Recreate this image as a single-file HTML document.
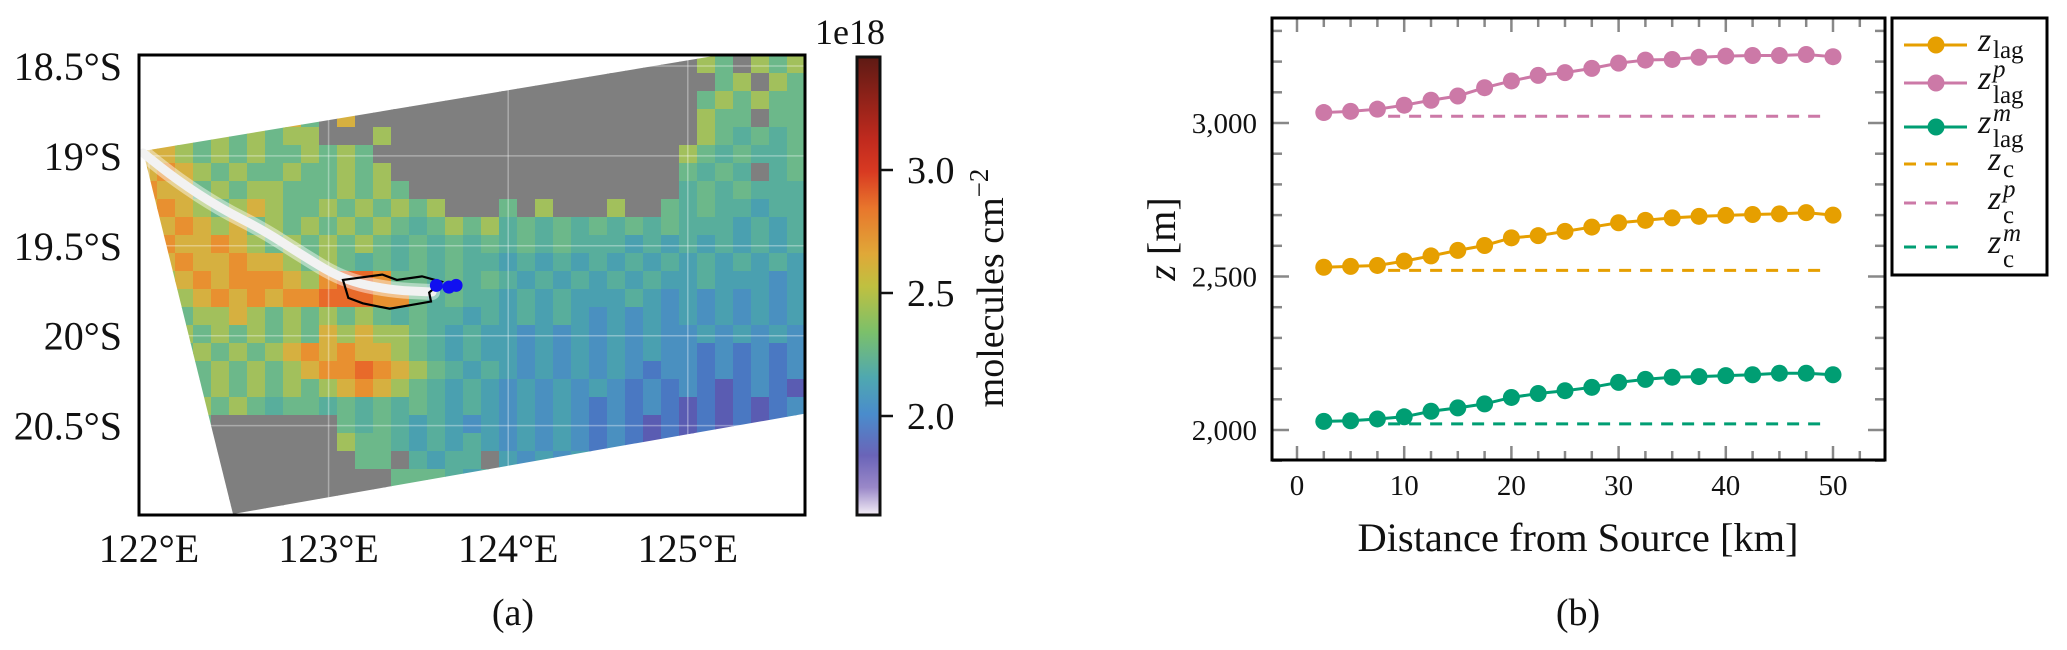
<!DOCTYPE html>
<html><head><meta charset="utf-8"><style>
body{margin:0;background:#fff;width:2067px;height:650px;overflow:hidden}
svg{display:block}
text{font-family:"Liberation Serif",serif;fill:#111}
</style></head><body>
<svg width="2067" height="650" viewBox="0 0 2067 650">
<defs>
<linearGradient id="cb" x1="0" y1="1" x2="0" y2="0">
<stop offset="0" stop-color="#f4eef6"/><stop offset="0.06" stop-color="#9a88c8"/><stop offset="0.13" stop-color="#6a64b8"/>
<stop offset="0.22" stop-color="#4a8ccc"/><stop offset="0.3" stop-color="#4fa8b0"/><stop offset="0.4" stop-color="#7cc06a"/>
<stop offset="0.5" stop-color="#c0c040"/><stop offset="0.57" stop-color="#e0a838"/><stop offset="0.67" stop-color="#e8762c"/>
<stop offset="0.75" stop-color="#d83a22"/><stop offset="0.82" stop-color="#c02a1e"/><stop offset="1" stop-color="#5e1a14"/>
</linearGradient>
<clipPath id="swath"><polygon points="143,151 900,25 900,397 233,514"/></clipPath>
<clipPath id="mapbox"><rect x="139" y="55" width="666" height="460"/></clipPath>
</defs>
<g id="map"></g>
<g id="cbar"></g>
<g id="chart"></g>
</svg>
<script>
// ---- map data ----
const mapRows = [
"6655656665 gggggggggg gggggggggg g65g656",
"6565665656 gggggggggg gggggggggg gg56g65",
"6656565665 6ggggggggg gggggggggg g565655",
"5656656575 g7gggggggg gggggggggg g655g55",
"6565656566 ggg6gggggg gggggggggg g654545",
"7765656556 565ggggggg gggggggggg 6545445",
"7876565565 5656gggggg gggggggggg 5454g45",
"8775656655 56565ggggg gggggggggg 4545444",
"7876567655 6565656ggg 5g6ggg6gg5 4544344",
"8787675656 5656545656 4545454545 4443434",
"7877876565 6565454545 4545444343 4343434",
"6787787765 6545454544 3434343434 3434343",
"5678788876 8998554545 4343434343 3433323",
"5667878788 9998854544 3434333432 3232323",
"5656676565 6565454434 3434323232 3232323",
"5565656565 7676654343 3232323232 2323232",
"5656565678 7877654343 3232323232 2121212",
"5565656567 8898765434 3232323212 2121212",
"4565656565 6787654343 2323232121 2101210",
"5456565455 4545454343 2323212121 0101012",
"45g5gggggg g545434323 2323212101 0101012",
"5g55gggggg g655434343 2323212101 0101012",
"55gggggggg gg55g4344g 3232323232 3232323",
"55gggggggg gggg555434 3232323232 3232323",
"55gggggggg gggg555656 5656565656 5656565",
"55gggggggg gggg555555 5555555555 5555555"];
const levelColors = {"0":"#5a5cb2","1":"#4a78c2","2":"#4a90c0","3":"#4aa0b0","4":"#58ae9c","5":"#6cb88a","6":"#a2c05c","7":"#d6b040","8":"#e89030","9":"#e86a2a","g":"#7f7f7f"};
const lonTicks = ["122°E","123°E","124°E","125°E"];
const lonValues = [122,123,124,125];
const latTicks = ["18.5°S","19°S","19.5°S","20°S","20.5°S"];
const latValues = [18.5,19,19.5,20,20.5];
const cbTicks = [2.0,2.5,3.0];
const plumeLon = [121.967,122.156,122.395,122.635,122.824,123.080,123.342,123.576];
const plumeLat = [18.984,19.134,19.290,19.412,19.534,19.690,19.746,19.757];
const sourceLon = [123.6,123.67,123.71];
const sourceLat = [19.72,19.73,19.72];
const outlineLon = [123.08,123.30,123.38,123.52,123.63,123.56,123.57,123.34,123.19,123.11];
const outlineLat = [19.69,19.66,19.69,19.67,19.70,19.76,19.81,19.85,19.82,19.79];

const NS="http://www.w3.org/2000/svg";
function mk(tag,attrs,parent){const e=document.createElementNS(NS,tag);for(const k in attrs)e.setAttribute(k,attrs[k]);parent.appendChild(e);return e;}
const lonX = v => 149 + (v-122)*179.6;
const latY = v => 66 + (v-18.5)*179.8;
const map=document.getElementById('map');
const outerClip=mk('g',{'clip-path':'url(#mapbox)'},map);
const cells=mk('g',{'clip-path':'url(#swath)'},outerClip);


const CS=18;
mapRows.forEach((row,r)=>{const s=row.replace(/ /g,'');for(let c=0;c<s.length;c++){
 const rc=mk('rect',{x:139+c*CS,y:55+r*CS,width:CS+0.6,height:CS+0.6,fill:levelColors[s[c]]},cells);
 
 
}});
const grid=mk('g',{'clip-path':'url(#mapbox)',stroke:'#ffffff','stroke-opacity':0.35,'stroke-width':1.5},map);


lonValues.forEach(v=>mk('line',{x1:lonX(v),x2:lonX(v),y1:55,y2:515},grid));
latValues.forEach(v=>mk('line',{x1:139,x2:805,y1:latY(v),y2:latY(v)},grid));
// plume (smooth curve through points)
const pts=plumeLon.map((v,i)=>[lonX(v),latY(plumeLat[i])]);
let d='M'+pts[0][0]+','+pts[0][1];
for(let i=1;i<pts.length;i++){const p0=pts[i-1],p1=pts[i];const mx=(p0[0]+p1[0])/2,my=(p0[1]+p1[1])/2;
 d+=(i===1?' L':' Q'+p0[0]+','+p0[1]+' ')+mx+','+my;}
d+=' L'+pts[pts.length-1][0]+','+pts[pts.length-1][1];
mk('path',{d:d,fill:'none',stroke:'#ffffff','stroke-opacity':0.45,'stroke-width':16,'stroke-linecap':'round','stroke-linejoin':'round'},map);
const plume=mk('path',{d:d,fill:'none',stroke:'#f2f2f2','stroke-width':9,'stroke-linecap':'round','stroke-linejoin':'round'},map);


const outline=mk('polygon',{points:outlineLon.map((v,i)=>lonX(v)+','+latY(outlineLat[i])).join(' '),fill:'none',stroke:'#000','stroke-width':2.2},map);


sourceLon.forEach((v,i)=>{const c=mk('circle',{cx:lonX(v),cy:latY(sourceLat[i]),r:6.5,fill:'#1010f0'},map);
 
 });
const mb=mk('rect',{x:139,y:55,width:666,height:460,fill:'none',stroke:'#000','stroke-width':3},map);


lonValues.forEach((v,i)=>{const t=mk('text',{x:lonX(v),y:562,'text-anchor':'middle','font-size':40},map);t.textContent=lonTicks[i];
 
 });
latValues.forEach((v,i)=>{const t=mk('text',{x:122,y:latY(v)+14,'text-anchor':'end','font-size':40},map);t.textContent=latTicks[i];
 
 });
const la=mk('text',{x:513,y:625,'text-anchor':'middle','font-size':38},map);la.textContent='(a)';



// colorbar
const cbar=document.getElementById('cbar');
const cbY=v=>170+(3.0-v)*246;
const cbr=mk('rect',{x:857,y:57,width:23,height:458,fill:'url(#cb)',stroke:'#111','stroke-width':3},cbar);


cbTicks.forEach(v=>{mk('line',{x1:880,x2:893,y1:cbY(v),y2:cbY(v),stroke:'#111','stroke-width':2.5},cbar);
 const t=mk('text',{x:907,y:cbY(v)+13,'font-size':38},cbar);t.textContent=v.toFixed(1);
 
 });
const e18=mk('text',{x:850,y:44,'text-anchor':'middle','font-size':36},cbar);e18.textContent='1e18';


const cl=mk('text',{x:0,y:0,'text-anchor':'middle','font-size':38,transform:'translate(1003,288) rotate(-90)'},cbar);
cl.innerHTML='molecules cm<tspan dy="-15" font-size="27">−2</tspan>';



// ---- line chart data ----
const distances=[2.5,5,7.5,10,12.5,15,17.5,20,22.5,25,27.5,30,32.5,35,37.5,40,42.5,45,47.5,50];
const zLag=[2530,2533,2536,2550,2567,2585,2601,2626,2633,2647,2661,2675,2683,2691,2696,2699,2702,2704,2708,2700];
const zLagP=[3034,3038,3045,3058,3074,3088,3115,3137,3155,3164,3178,3195,3205,3207,3214,3218,3220,3220,3223,3216];
const zLagM=[2028,2030,2036,2043,2061,2072,2085,2106,2119,2128,2139,2155,2165,2172,2174,2177,2180,2185,2185,2180];
const zC=[2520], zCP=[3022], zCM=[2020];
const dashRange=[8.5,49];
const xTicks=[0,10,20,30,40,50];
const yTicks=[2000,2500,3000];
const yTickLabels=["2,000","2,500","3,000"];

const ch=document.getElementById('chart');
const X=v=>1297+v*10.72;
const Y=v=>430-(v-2000)*0.307;
const L=1272,R=1885,T=18,B=460;
const tg=mk('g',{stroke:'#888','stroke-width':2.5},ch);


for(let v=1900;v<=3300;v+=100){const maj=v%500===0,len=maj?17:10;
 mk('line',{x1:L,x2:L+len,y1:Y(v),y2:Y(v)},tg);mk('line',{x1:R-len,x2:R,y1:Y(v),y2:Y(v)},tg);}
for(let v=0;v<=52.5;v+=2.5){const maj=v%10===0,len=maj?14:9;
 mk('line',{x1:X(v),x2:X(v),y1:T,y2:T+len},tg);mk('line',{x1:X(v),x2:X(v),y1:B-len,y2:B},tg);}
const series=[[zLag,zC,'#e69f00','z-lag'],[zLagP,zCP,'#cc79a7','z-lag-p'],[zLagM,zCM,'#009e73','z-lag-m']];
series.forEach(([vals,c,col,name])=>{
 const dl=mk('line',{x1:X(dashRange[0]),x2:X(dashRange[1]),y1:Y(c[0]),y2:Y(c[0]),stroke:col,'stroke-width':3,'stroke-dasharray':'12,9'},ch);
 
 
 const pl=mk('polyline',{points:vals.map((v,i)=>X(distances[i])+','+Y(v)).join(' '),fill:'none',stroke:col,'stroke-width':3},ch);
 
 
 vals.forEach((v,i)=>{const p=mk('circle',{cx:X(distances[i]),cy:Y(v),r:8.5,fill:col},ch);
  
  });
});
const fr=mk('rect',{x:L,y:T,width:R-L,height:B-T,fill:'none',stroke:'#000','stroke-width':3},ch);


xTicks.forEach(v=>{const t=mk('text',{x:X(v),y:495,'text-anchor':'middle','font-size':29},ch);t.textContent=v;
 
 });
yTicks.forEach((v,i)=>{const t=mk('text',{x:1257,y:Y(v)+10,'text-anchor':'end','font-size':29},ch);t.textContent=yTickLabels[i];
 
 });
const xl=mk('text',{x:1578,y:551,'text-anchor':'middle','font-size':40,textLength:441,lengthAdjust:'spacingAndGlyphs'},ch);xl.textContent='Distance from Source [km]';


const yl=mk('text',{x:0,y:0,'text-anchor':'middle','font-size':40,transform:'translate(1175,239) rotate(-90)'},ch);
yl.innerHTML='<tspan font-style="italic">z</tspan> [m]';


const lb=mk('text',{x:1578,y:625,'text-anchor':'middle','font-size':38},ch);lb.textContent='(b)';


// legend
const lg=mk('g',{},ch);


mk('rect',{x:1892,y:18,width:155,height:257,fill:'#fff',stroke:'#000','stroke-width':3},lg);
const entries=[[45,'#e69f00',1,'','lag'],[83,'#cc79a7',1,'p','lag'],[127,'#009e73',1,'m','lag'],[164,'#e69f00',0,'','c'],[203,'#cc79a7',0,'p','c'],[247,'#009e73',0,'m','c']];
entries.forEach(([y,col,solid,sup,sub])=>{
 const g=mk('g',{},lg);
 
 
 if(solid){mk('line',{x1:1904,x2:1967,y1:y,y2:y,stroke:col,'stroke-width':3},g);mk('circle',{cx:1936,cy:y,r:8.5,fill:col},g);}
 else mk('line',{x1:1904,x2:1962,y1:y,y2:y,stroke:col,'stroke-width':3,'stroke-dasharray':'12,9'},g);
 const tx=solid?1978:1988;
 mk('text',{x:tx,y:y+6,'font-size':34,'font-style':'italic'},g).textContent='z';
 if(sup){mk('text',{x:tx+15,y:y-6,'font-size':25,'font-style':'italic'},g).textContent=sup;
         mk('text',{x:tx+15,y:y+20,'font-size':25},g).textContent=sub;}
 else mk('text',{x:tx+15,y:y+13,'font-size':25},g).textContent=sub;
});
</script>
</body></html>
